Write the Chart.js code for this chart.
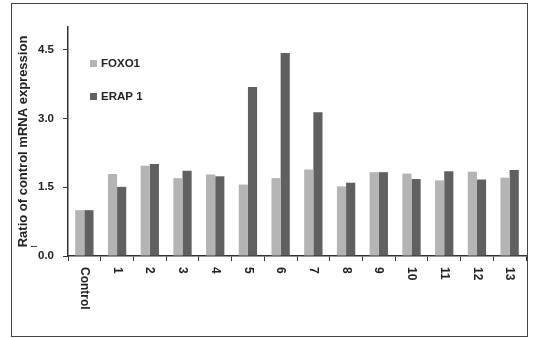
<!DOCTYPE html>
<html>
<head>
<meta charset="utf-8">
<script src="https://cdn.jsdelivr.net/npm/chart.js@4/dist/chart.umd.min.js"></script>
<style>
  html, body { margin: 0; padding: 0; background: #fff; }
  canvas { display: block; }
</style>
</head>
<body>
<canvas id="expressionChart" width="533" height="338"></canvas>
<script>
// Categories and series values
const categories = ["Control", "1", "2", "3", "4", "5", "6", "7", "8", "9", "10", "11", "12", "13"];
const foxo1 = [1.0, 1.79, 1.97, 1.70, 1.78, 1.56, 1.70, 1.89, 1.52, 1.83, 1.80, 1.65, 1.84, 1.71];
const erap1 = [1.0, 1.51, 2.01, 1.86, 1.74, 3.69, 4.43, 3.14, 1.60, 1.83, 1.68, 1.85, 1.67, 1.88];
const yTicks = [0, 1.5, 3.0, 4.5];

const textColor = "#222";
const axisColor = "#333";
const fontFamily = "'Liberation Sans', Arial, sans-serif";

// Outer frame around the figure
const framePlugin = {
  id: "frame",
  afterDraw(chart) {
    const ctx = chart.ctx;
    ctx.save();
    ctx.strokeStyle = "#444";
    ctx.lineWidth = 1;
    ctx.strokeRect(11.5, 3.5, 516, 333);
    // small stray dash left of the axis title in the original scan
    ctx.beginPath();
    ctx.moveTo(31, 246.5);
    ctx.lineTo(37, 246.5);
    ctx.stroke();
    ctx.restore();
  },
};

// Category labels drawn rotated clockwise (reading top to bottom)
const xLabelPlugin = {
  id: "xLabels",
  afterDraw(chart) {
    const ctx = chart.ctx;
    const xScale = chart.scales.x;
    ctx.save();
    ctx.fillStyle = textColor;
    ctx.font = "bold 12px " + fontFamily;
    ctx.textAlign = "left";
    ctx.textBaseline = "middle";
    chart.data.labels.forEach((label, i) => {
      const x = xScale.getPixelForTick(i);
      ctx.save();
      ctx.translate(x, xScale.top + 11);
      ctx.rotate(Math.PI / 2);
      ctx.fillText(label, 0, 0);
      ctx.restore();
    });
    ctx.restore();
  },
};

// Legend sitting inside the plot area, top left
const insideLegendPlugin = {
  id: "insideLegend",
  afterDraw(chart) {
    const ctx = chart.ctx;
    const area = chart.chartArea;
    ctx.save();
    ctx.font = "bold 11.5px " + fontFamily;
    ctx.textBaseline = "middle";
    ctx.textAlign = "left";
    chart.data.datasets.forEach((ds, i) => {
      const y = area.top + 36 + i * 33;
      ctx.fillStyle = ds.backgroundColor;
      ctx.fillRect(area.left + 22, y - 3, 7, 7);
      ctx.fillStyle = textColor;
      ctx.fillText(ds.label, area.left + 33, y + 1);
    });
    ctx.restore();
  },
};

function buildChart() {
  const ctx = document.getElementById("expressionChart").getContext("2d");

  return new Chart(ctx, {
    type: "bar",
    data: {
      labels: categories,
      datasets: [
        {
          label: "FOXO1",
          data: foxo1,
          backgroundColor: "#b4b4b4",
          borderWidth: 0,
          categoryPercentage: 0.56,
          barPercentage: 1.0,
        },
        {
          label: "ERAP 1",
          data: erap1,
          backgroundColor: "#606060",
          borderWidth: 0,
          categoryPercentage: 0.56,
          barPercentage: 1.0,
        },
      ],
    },
    options: {
      responsive: false,
      animation: false,
      layout: {
        padding: { top: 27, right: 7, left: 0, bottom: 0 },
      },
      plugins: {
        legend: { display: false },
        tooltip: { enabled: false },
      },
      scales: {
        x: {
          type: "category",
          offset: true,
          grid: {
            offset: true,
            drawOnChartArea: false,
            drawTicks: true,
            tickLength: 5,
            color: axisColor,
          },
          border: { display: true, color: axisColor, width: 1.5 },
          ticks: { display: false },
          afterFit(scale) {
            scale.height = 82;
          },
        },
        y: {
          min: 0,
          max: 5,
          afterBuildTicks(axis) {
            axis.ticks = yTicks.map((v) => ({ value: v }));
          },
          grid: {
            drawOnChartArea: false,
            drawTicks: true,
            tickLength: 5,
            color: axisColor,
          },
          border: { display: true, color: axisColor, width: 1.5 },
          ticks: {
            color: textColor,
            padding: 9,
            font: { family: fontFamily, size: 11.5, weight: "bold" },
            callback: (value) => Number(value).toFixed(1),
          },
          title: {
            display: true,
            text: "Ratio of control mRNA expression",
            color: textColor,
            font: { family: fontFamily, size: 13, weight: "bold" },
            padding: { top: 16, bottom: 0 },
          },
          afterFit(scale) {
            scale.width = 68;
          },
        },
      },
    },
    plugins: [framePlugin, xLabelPlugin, insideLegendPlugin],
  });
}

// Initialize chart
buildChart();
</script>
</body>
</html>
